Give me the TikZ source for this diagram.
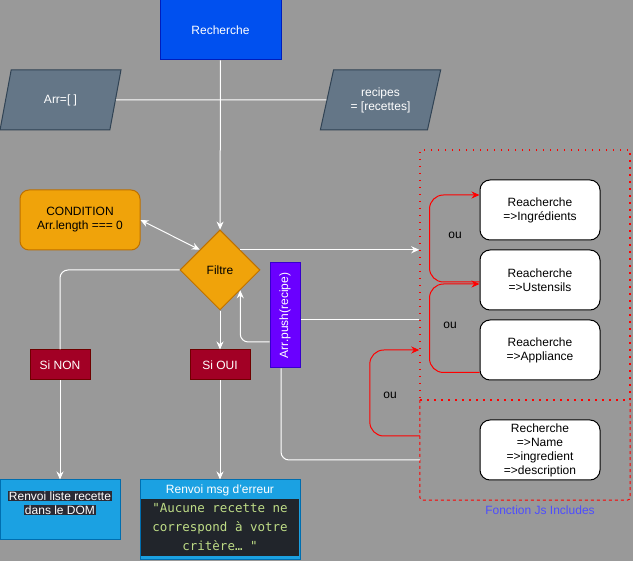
\documentclass[tikz,border=0pt]{standalone}
\usepackage{fontspec}
\setmainfont{Liberation Sans}
\setmonofont{DejaVu Sans Mono}
\usepackage{tikz}
\usetikzlibrary{shapes.geometric, arrows.meta, positioning}

\definecolor{fond}{HTML}{999999}
\definecolor{bleu}{HTML}{0050EF}
\definecolor{bleufonce}{HTML}{001DBC}
\definecolor{ardoise}{HTML}{647687}
\definecolor{ardoisefonce}{HTML}{314354}
\definecolor{ambre}{HTML}{F0A30A}
\definecolor{ambrefonce}{HTML}{BD7000}
\definecolor{bordeaux}{HTML}{A20025}
\definecolor{bordeauxfonce}{HTML}{6F0000}
\definecolor{violet}{HTML}{6A00FF}
\definecolor{violetfonce}{HTML}{3700CC}
\definecolor{ciel}{HTML}{1BA1E2}
\definecolor{cielfonce}{HTML}{006EAF}
\definecolor{fondcode}{HTML}{21252B}
\definecolor{vertcode}{HTML}{BEDC86}
\definecolor{surlignage}{HTML}{2A2A35}
\definecolor{bleutexte}{HTML}{4D4DFF}
\definecolor{rouge}{HTML}{FF0000}

\newcommand{\surligne}[1]{{\setlength{\fboxsep}{0.7pt}\colorbox{surlignage}{#1}}}

\begin{document}
\begin{tikzpicture}[
        x=1pt, y=-1pt,
        font=\fontsize{12}{14}\selectfont,
        bloc/.style={rectangle, draw, line width=1pt, align=center, inner sep=2pt},
        donnee/.style={trapezium, trapezium left angle=71.57, trapezium right angle=108.43, trapezium stretches=true, draw=ardoisefonce, fill=ardoise, line width=1pt, text=white, minimum width=121pt, minimum height=60pt, inner sep=0pt, align=center},
        losange/.style={diamond, aspect=1, draw=ambrefonce, fill=ambre, line width=1pt, minimum width=80pt, minimum height=80pt, inner sep=0pt},
        condition/.style={bloc, rounded corners=9pt, draw=ambrefonce, fill=ambre, minimum width=120pt, minimum height=60pt},
        verdict/.style={bloc, draw=bordeauxfonce, fill=bordeaux, text=white, minimum width=60pt, minimum height=30pt},
        pousse/.style={bloc, rotate=90, draw=violetfonce, fill=violet, text=white, minimum width=105pt, minimum height=30pt},
        sortie/.style={bloc, draw=cielfonce, fill=ciel},
        codebox/.style={rectangle, fill=fondcode, text=vertcode, font=\ttfamily\fontsize{12.5}{19}\selectfont, align=center, minimum width=158pt, minimum height=57pt, inner sep=0pt},
        choix/.style={bloc, rounded corners=10pt, draw=black, fill=white, minimum width=120pt, minimum height=60pt, inner sep=0pt},
        pointille/.style={rectangle, draw=rouge, line width=1.5pt, dash pattern=on 1.5pt off 5.5pt, minimum width=210pt, minimum height=250pt},
        tirets/.style={draw=rouge, line width=1pt, dash pattern=on 3pt off 3pt, rounded corners=3pt},
        lien/.style={draw=white, line width=1pt},
        fleche/.style={lien, -{Stealth[length=8pt, width=7pt]}},
        doublefleche/.style={lien, {Stealth[length=8pt, width=7pt]}-{Stealth[length=8pt, width=7pt]}},
        ou/.style={draw=rouge, line width=1pt, rounded corners=14pt, -{Stealth[length=8pt, width=7pt]}}
    ]

    \fill[fond] (0,0) rectangle (633,561);
    \useasboundingbox (0,0) rectangle (633,561);

    % --- ENTREE ---
    \node[bloc, fill=bleu, draw=bleufonce, text=white, minimum width=121pt, minimum height=60pt] (recherche) at (220.5,30) {Recherche};
    \node[donnee] (arrvide) at (60.5,100) {Arr=[ ]};
    \node[donnee] (recipes) at (380.5,100) {recipes\\= [recettes]};

    % --- FILTRE ---
    \node[losange] (filtre) at (220,270) {Filtre};
    \node[condition] (condition) at (80,220) {CONDITION\\Arr.length === 0};
    \node[pousse] (arrpush) at (285,315.5) {Arr.push(recipe)};
    \node[verdict] (sinon) at (60,365) {Si NON};
    \node[verdict] (sioui) at (220,365) {Si OUI};

    % --- SORTIES ---
    \node[sortie, minimum width=120pt, minimum height=60pt] (renvoiliste) at (60,510) {};
    \node[text=white, align=center, inner sep=0pt] (txtliste) at (60,503) {\surligne{Renvoi liste recette}\\\surligne{dans le DOM}};
    \node[sortie, minimum width=160pt, minimum height=80pt] (renvoimsg) at (220,520) {};
    \node[text=white, inner sep=0pt] (titremsg) at (220,490) {Renvoi msg d'erreur};
    \node[codebox] (msgtxt) at (220,527.5) {\raisebox{-2pt}{"Aucune recette ne}\\\raisebox{-2pt}{correspond à votre}\\\raisebox{-2pt}{critère… "}};

    % --- FONCTION JS INCLUDES ---
    \node[rectangle, minimum width=210pt, minimum height=100pt] (grpname) at (525,450) {};
    \draw[tirets] (grpname.north west) -- (grpname.south west) -- (grpname.south east) -- (grpname.north east);
    \node[pointille] (grpinc) at (525,275) {};
    \node[text=bleutexte] (legende) at (540,510) {Fonction Js Includes};
    \node[choix] (ingr) at (540,210) {Reacherche\\=>Ingrédients};
    \node[choix] (ust) at (540,280) {Reacherche\\=>Ustensils};
    \node[choix] (appl) at (540,350) {Reacherche\\=>Appliance};
    \node[choix] (nameblk) at (540,450) {Recherche\\=>Name\\=>ingredient\\=>description};
    \node (ou1) at (455,235) {ou};
    \node (ou2) at (450,325) {ou};
    \node (ou3) at (390,395) {ou};

    % --- CONNECTEURS ---
    \draw[fleche] (recherche) -- (filtre);
    \draw[lien] (arrvide) -- (recipes);
    \draw[doublefleche] (condition.east) -- (filtre.north west);
    \draw[fleche] (filtre.north east) -- (filtre.north east -| grpinc.west);
    \draw[lien, rounded corners=8pt] (filtre.west) -| (sinon.north);
    \draw[fleche] (filtre) -- (sioui);
    \draw[fleche] (sinon) -- (renvoiliste);
    \draw[fleche] (sioui) -- (renvoimsg);
    \draw[fleche, rounded corners=8pt] ([yshift=-26.5pt]arrpush.north) -| (filtre.south east);
    \draw[lien] ([yshift=-4.5pt]arrpush.south) -- ([yshift=-4.5pt]arrpush.south -| grpinc.west);
    \draw[lien, rounded corners=8pt] ([xshift=-4pt]arrpush.west) |- ([yshift=-10pt]grpname.west);
    \draw[ou] ([yshift=-2pt]ust.west) -- ++(-50,0) |- ([yshift=15pt]ingr.west);
    \draw[ou] ([yshift=8pt]appl.south west) -- ++(-50,0) |- ([yshift=-4pt]ust.west);
    \draw[ou] ([yshift=14pt]grpname.west) -- ++(-50,0) |- ([yshift=-75pt]grpinc.west);

\end{tikzpicture}
\end{document}
